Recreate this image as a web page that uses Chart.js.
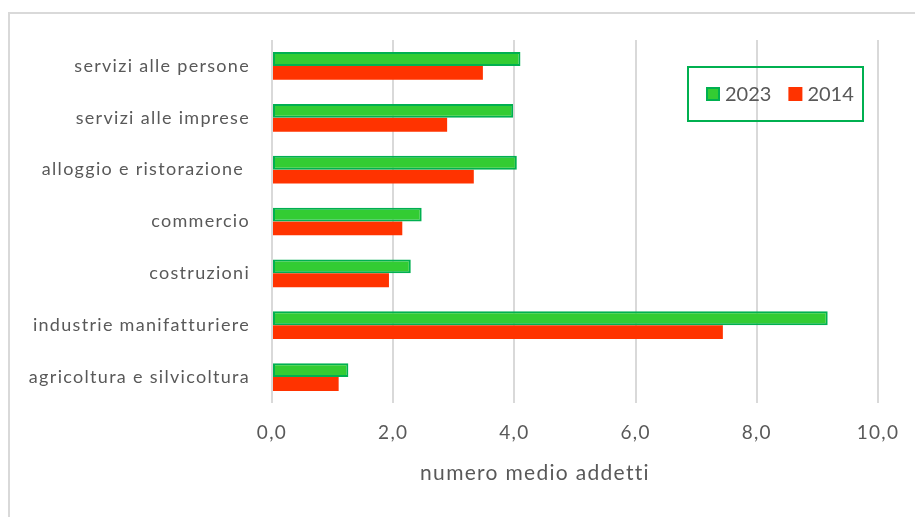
<!DOCTYPE html>
<html lang="it">
<head>
<meta charset="utf-8">
<title>Numero medio addetti per settore</title>
<script src="https://cdn.jsdelivr.net/npm/chart.js@4.4.1/dist/chart.umd.min.js"></script>
<style>
  html, body { margin: 0; padding: 0; background: #fff; overflow: hidden; }
  #wrap { position: relative; width: 915px; height: 517px; overflow: hidden; }
  #frame { position: absolute; left: 8px; top: 12px; width: 1000px; height: 1000px;
           border: 2px solid #d9d9d9; box-sizing: border-box; }
  canvas { position: absolute; left: 0; top: 0; }
</style>
</head>
<body>
<div id="wrap">
  <div id="frame"></div>
  <canvas id="settoriChart" width="915" height="517"></canvas>
</div>
<script>
// settori dall'alto verso il basso
const settori = [
    'servizi alle persone',
    'servizi alle imprese',
    'alloggio e ristorazione ',
    'commercio',
    'costruzioni',
    'industrie manifatturiere',
    'agricoltura e silvicoltura'
];
const addetti2023 = [4.10, 3.98, 4.04, 2.47, 2.29, 9.17, 1.26];
const addetti2014 = [3.48, 2.89, 3.33, 2.15, 1.93, 7.44, 1.10];
const xTicks = [0, 2, 4, 6, 8, 10];
const titoloAsse = 'numero medio addetti';

const grigioTesto = '#595959';
const fontBase = 'Lato';
const spaziatura = '1.3px';

function virgola(v) {
    return Number(v).toFixed(1).replace('.', ',');
}

// testo un po' più spaziato per tutto il grafico
const spaziaturaTesto = {
    id: 'spaziaturaTesto',
    beforeDraw(chart) {
        chart.ctx.letterSpacing = spaziatura;
    }
};

// legenda nel riquadro verde in alto a destra
const legendaRiquadro = {
    id: 'legendaRiquadro',
    afterDraw(chart) {
        const ctx = chart.ctx;
        const area = chart.chartArea;
        const bx = area.right - 190, by = area.top + 27, bw = 175, bh = 54;
        ctx.save();
        ctx.letterSpacing = '0px';
        ctx.strokeStyle = '#00b050';
        ctx.lineWidth = 2;
        ctx.strokeRect(bx, by, bw, bh);

        ctx.font = '20px ' + fontBase;
        ctx.textBaseline = 'middle';
        let x = bx + 18;
        const cy = by + bh / 2;
        chart.data.datasets.forEach(ds => {
            const s = 14;
            ctx.fillStyle = ds.backgroundColor;
            ctx.fillRect(x, cy - s / 2, s, s);
            if (ds.borderWidth) {
                ctx.strokeStyle = ds.borderColor;
                ctx.lineWidth = 2;
                ctx.strokeRect(x + 1, cy - s / 2 + 1, s - 2, s - 2);
            }
            x += s + 5;
            ctx.fillStyle = grigioTesto;
            ctx.fillText(ds.label, x, cy + 1);
            x += ctx.measureText(ds.label).width + 17;
        });
        ctx.restore();
    }
};

// titolo dell'asse x, un po' a sinistra del centro
const titoloX = {
    id: 'titoloX',
    afterDraw(chart) {
        const ctx = chart.ctx;
        ctx.save();
        ctx.letterSpacing = spaziatura;
        ctx.font = '21px ' + fontBase;
        ctx.fillStyle = grigioTesto;
        ctx.textAlign = 'center';
        ctx.textBaseline = 'middle';
        ctx.fillText(titoloAsse, chart.chartArea.left + 263, chart.chartArea.bottom + 70);
        ctx.restore();
    }
};

const ctx = document.getElementById('settoriChart').getContext('2d');

const settoriChart = new Chart(ctx, {
    type: 'bar',
    data: {
        labels: settori,
        datasets: [{
            label: '2023',
            data: addetti2023,
            backgroundColor: '#33cc33',
            borderColor: '#00b050',
            borderWidth: 2,
            borderSkipped: false
        },
        {
            label: '2014',
            data: addetti2014,
            backgroundColor: '#ff3300',
            borderWidth: 0
        }]
    },
    options: {
        indexAxis: 'y',
        responsive: false,
        animation: false,
        layout: {
            padding: { top: 40, right: 37, bottom: 0, left: 0 }
        },
        datasets: {
            bar: {
                categoryPercentage: 0.535,
                barPercentage: 1
            }
        },
        plugins: {
            legend: { display: false },
            tooltip: { enabled: false }
        },
        scales: {
            x: {
                min: 0,
                max: 10,
                afterBuildTicks: scale => {
                    scale.ticks = xTicks.map(v => ({ value: v }));
                },
                afterFit: scale => { scale.height = 114; },
                grid: {
                    color: '#d9d9d9',
                    lineWidth: 2,
                    drawTicks: false
                },
                border: { display: false },
                ticks: {
                    padding: 18,
                    color: grigioTesto,
                    font: { family: fontBase, size: 19 },
                    callback: v => virgola(v)
                }
            },
            y: {
                afterFit: scale => { scale.width = 272; },
                grid: { display: false, drawTicks: false },
                border: { display: false },
                ticks: {
                    padding: 22,
                    color: grigioTesto,
                    font: { family: fontBase, size: 18 }
                }
            }
        }
    },
    plugins: [spaziaturaTesto, legendaRiquadro, titoloX]
});
</script>
</body>
</html>
